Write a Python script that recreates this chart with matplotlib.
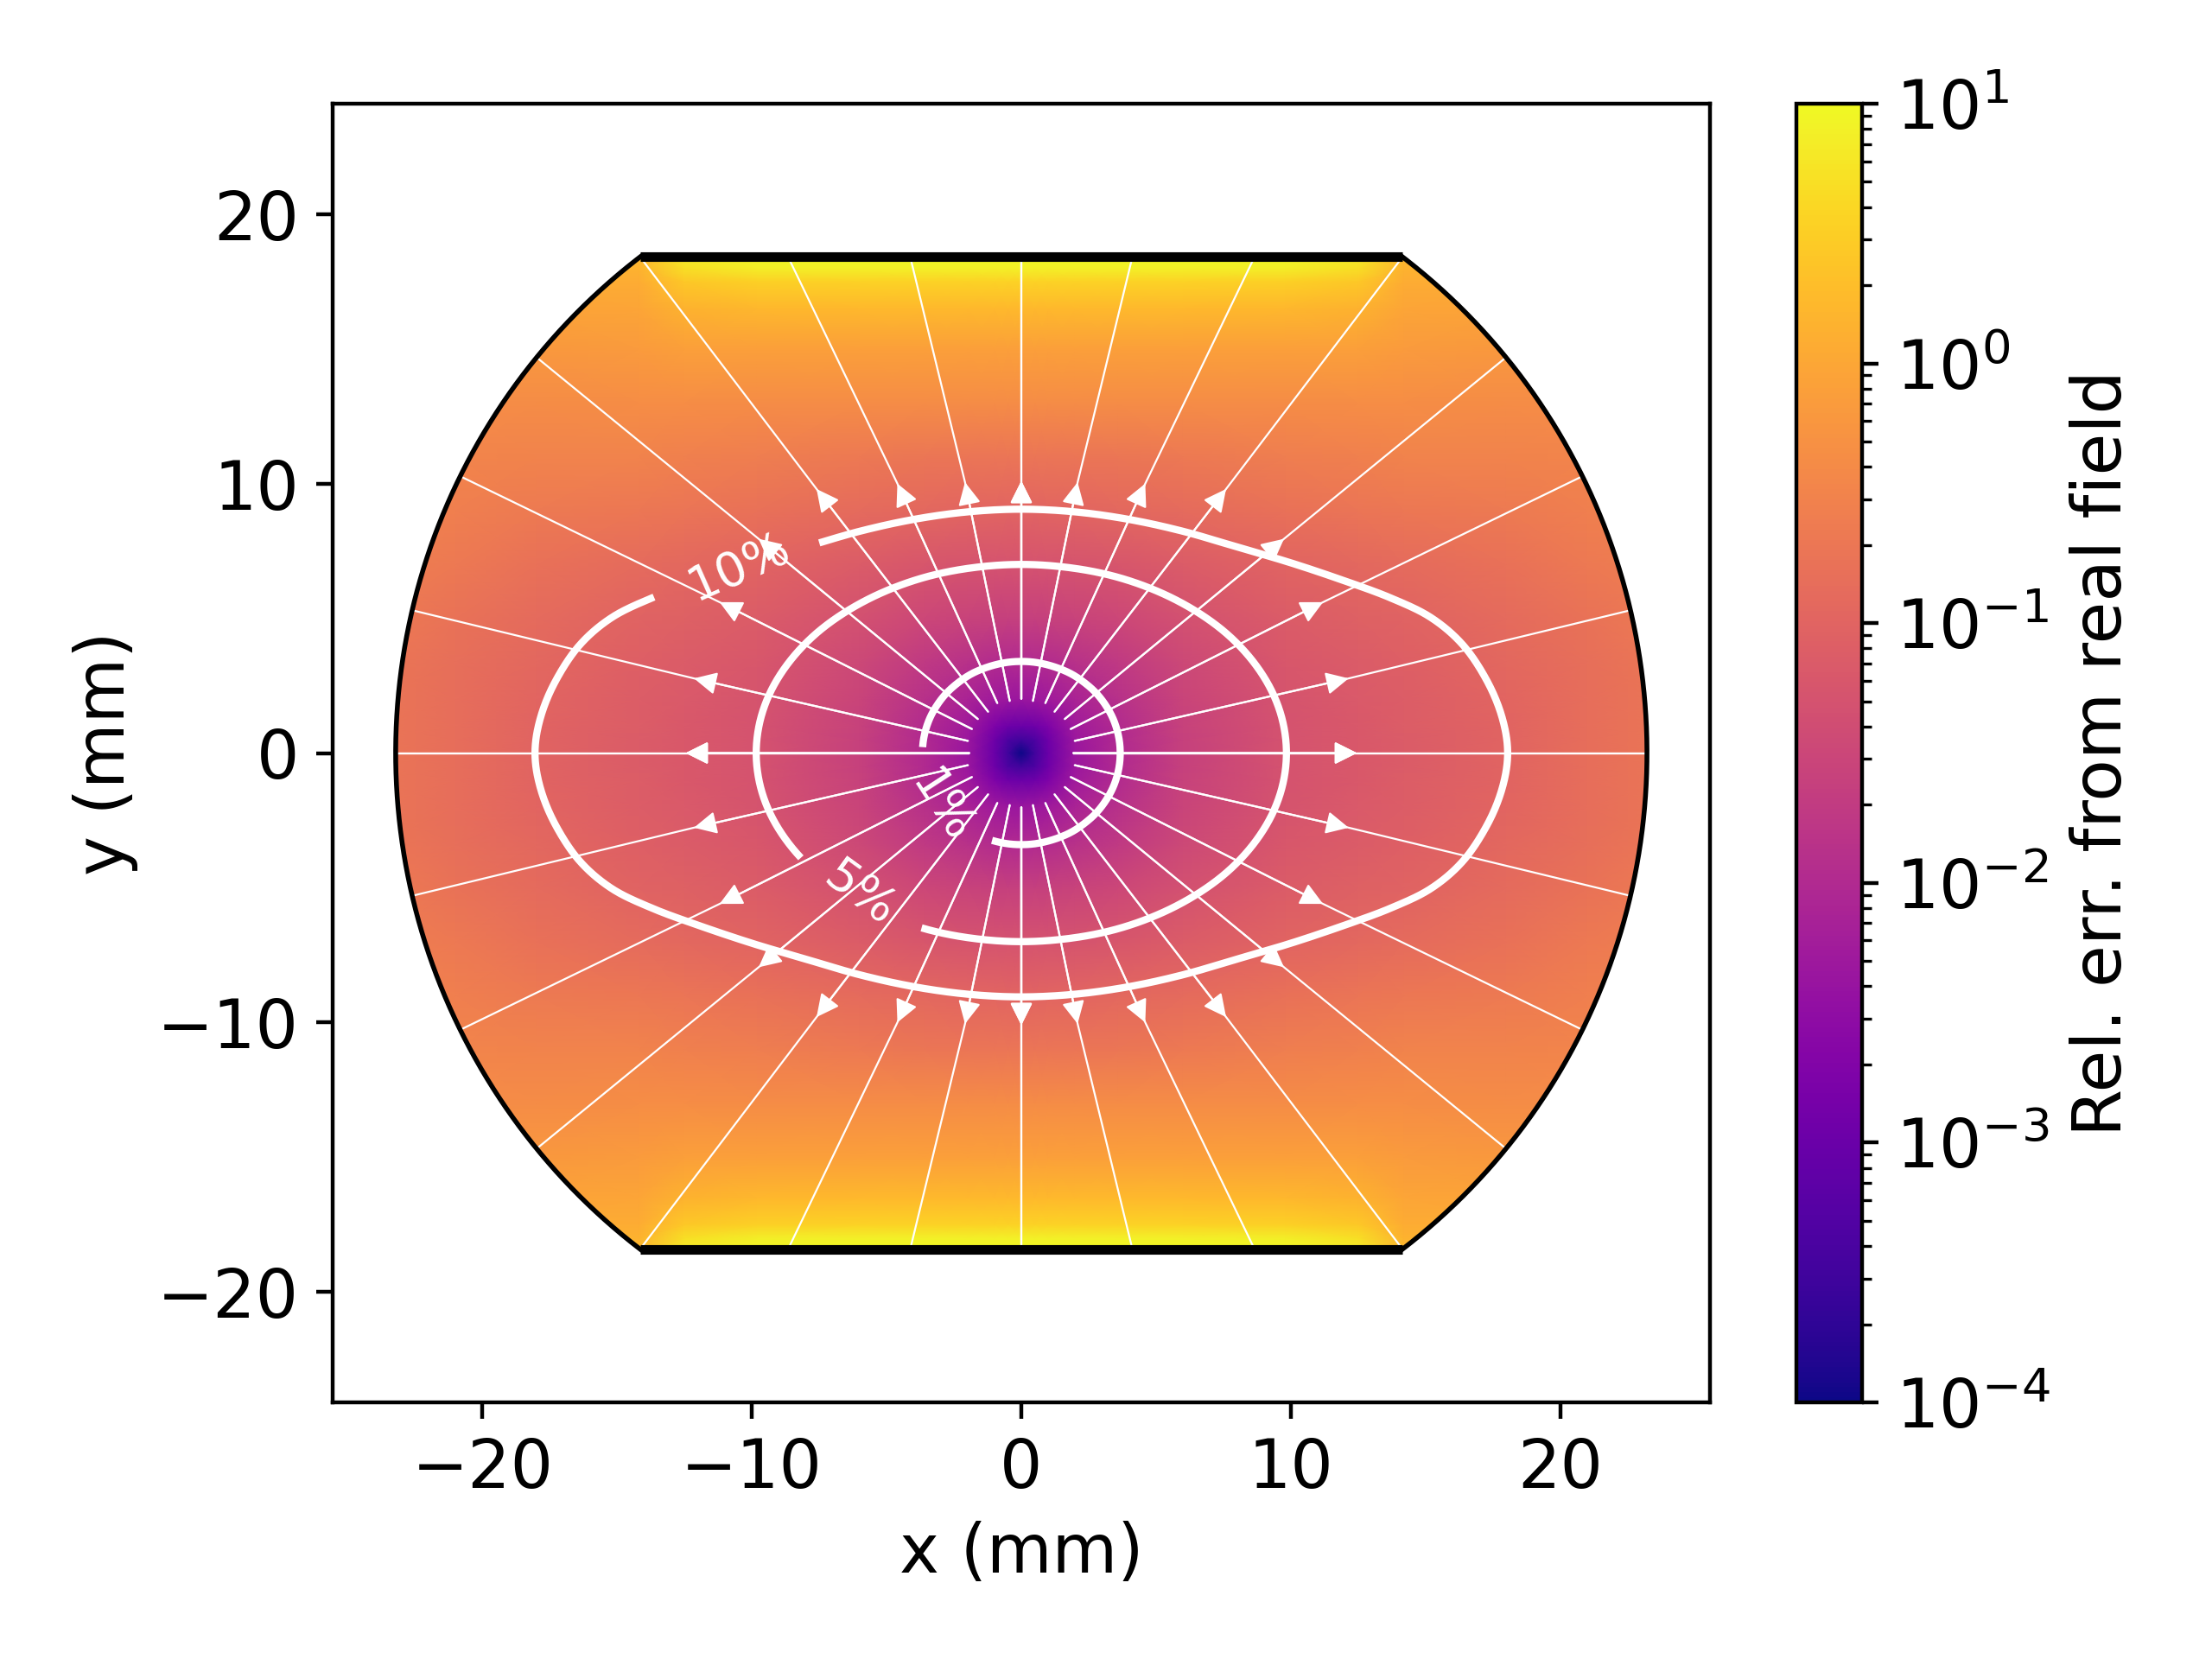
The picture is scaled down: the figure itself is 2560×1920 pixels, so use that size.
import numpy as np
import matplotlib
matplotlib.use("Agg")
import matplotlib.pyplot as plt
from matplotlib.colors import LogNorm
from matplotlib.patches import Polygon

# ---- geometry (mm)
pole_half_width = 14.14
pole_y = 18.42
bore_radius = 23.2

# ---- field: log10(relative error), first quadrant
grid_x = [0, 0.5, 1, 2, 3.6, 6, 9.8, 12.5, 14.2, 18, 21, 24]
grid_y = [0, 0.5, 1, 2, 3.4, 5, 7, 9, 11, 13, 15, 16.5, 17.5, 18, 18.5]
log_err_x00 = [-4.0, -3.5, -3.0, -2.35, -2.0, -1.62, -1.3, -1.0, -0.72, -0.38, -0.1, 0.22, 0.55, 0.9, 1.0]
log_err_x01 = [-3.5, -3.35, -2.95, -2.33, -2.0, -1.62, -1.3, -1.0, -0.72, -0.38, -0.1, 0.22, 0.55, 0.9, 1.0]
log_err_x02 = [-3.0, -2.95, -2.75, -2.28, -1.96, -1.6, -1.29, -0.99, -0.72, -0.38, -0.1, 0.22, 0.55, 0.9, 1.0]
log_err_x03 = [-2.35, -2.33, -2.28, -2.12, -1.87, -1.57, -1.27, -0.98, -0.72, -0.38, -0.1, 0.22, 0.55, 0.9, 1.0]
log_err_x04 = [-2.0, -2.0, -1.97, -1.88, -1.72, -1.5, -1.24, -0.95, -0.71, -0.38, -0.1, 0.22, 0.55, 0.9, 1.0]
log_err_x05 = [-1.6, -1.6, -1.58, -1.55, -1.47, -1.33, -1.14, -0.89, -0.67, -0.38, -0.1, 0.22, 0.55, 0.9, 1.0]
log_err_x06 = [-1.3, -1.3, -1.29, -1.27, -1.22, -1.13, -1.0, -0.78, -0.6, -0.37, -0.1, 0.2, 0.52, 0.88, 0.98]
log_err_x07 = [-1.2, -1.2, -1.19, -1.17, -1.13, -1.06, -0.94, -0.72, -0.55, -0.36, -0.11, 0.15, 0.42, 0.7, 0.85]
log_err_x08 = [-1.13, -1.13, -1.12, -1.11, -1.08, -1.02, -0.88, -0.68, -0.52, -0.35, -0.17, -0.03, 0.08, 0.15, 0.2]
log_err_x09 = [-1.0, -1.0, -1.0, -0.98, -0.95, -0.88, -0.78, -0.66, -0.52, -0.37, -0.2, -0.05, 0.08, 0.15, 0.2]
log_err_x10 = [-0.85, -0.85, -0.85, -0.84, -0.82, -0.76, -0.67, -0.58, -0.48, -0.37, -0.2, -0.05, 0.08, 0.15, 0.2]
log_err_x11 = [-0.7, -0.7, -0.7, -0.7, -0.68, -0.64, -0.58, -0.5, -0.42, -0.35, -0.2, -0.05, 0.08, 0.15, 0.2]

# ---- field lines, first quadrant: inner end, arrow tip, outer end
line_inner_x = [0.0, 0.43, 0.89, 1.23, 1.61, 1.83, 1.98, 1.93]
line_inner_y = [2.01, 1.93, 1.85, 1.53, 1.26, 0.89, 0.45, 0.0]
arrow_x = [0.0, 2.09, 4.6, 7.6, 9.75, 11.2, 12.15, 12.46]
arrow_y = [10.1, 10.05, 10.0, 9.8, 7.95, 5.6, 2.77, 0.0]
line_outer_x = [0.0, 4.12, 8.65, 14.14, 17.96, 20.8, 22.57, 23.2]
line_outer_y = [18.4, 18.4, 18.4, 18.4, 14.66, 10.26, 5.29, 0.0]

# ---- error contours, first quadrant, from +x axis to +y axis
c1_x = [3.67, 3.58, 3.3, 2.8, 2.14, 1.5, 0.73, 0.0]
c1_y = [0.0, 0.75, 1.49, 2.2, 2.76, 3.1, 3.33, 3.4]
c5_x = [9.84, 9.69, 9.25, 8.52, 7.54, 6.32, 4.92, 3.37, 1.71, 0.0]
c5_y = [0.0, 1.22, 2.39, 3.5, 4.5, 5.36, 6.06, 6.58, 6.89, 7.0]
c10_x = [18.05, 17.85, 17.3, 16.4, 15.2, 13.7, 12.0, 10.0, 8.0, 6.0, 4.0, 2.0, 0.0]
c10_y = [0.0, 1.3, 2.65, 4.0, 5.03, 5.76, 6.39, 7.06, 7.65, 8.23, 8.67, 8.95, 9.05]
# gaps that hold the labels, degrees counter-clockwise from +x
c1_gap = (177, 251)
c5_gap = (205.6, 239.8)
c10_gap = (134, 156.9)

label_text = ["1%", "5%", "10%"]
label_x = [-2.98, -6.02, -10.47]
label_y = [-2.0, -5.24, 6.91]
label_rot = [-57, -36, 24]

ax_xticks = [-20, -10, 0, 10, 20]
ax_yticks = [-20, -10, 0, 10, 20]

W, H = 2560, 1920
fig = plt.figure(figsize=(6.4, 4.8), dpi=400)
ax = fig.add_axes([385 / W, 1 - 1623 / H, (1979 - 385) / W, (1623 - 120) / H])
cax = fig.add_axes([2079 / W, 1 - 1623 / H, (2155 - 2079) / W, (1623 - 120) / H])

# field
half = np.array([log_err_x00, log_err_x01, log_err_x02, log_err_x03, log_err_x04, log_err_x05,
                 log_err_x06, log_err_x07, log_err_x08, log_err_x09, log_err_x10, log_err_x11]).T
gx = np.array(grid_x, float)
gy = np.array(grid_y, float)
X = np.r_[-gx[:0:-1], gx]
Y = np.r_[-gy[:0:-1], gy]
Z = np.hstack([half[:, :0:-1], half])
Z = np.vstack([Z[:0:-1], Z])
mesh = ax.pcolormesh(X, Y, 10.0 ** Z, cmap="plasma", norm=LogNorm(1e-4, 10), shading="gouraud",
                     rasterized=True)

# boundary
corner = np.arctan2(pole_y, pole_half_width)
t = np.linspace(-corner, corner, 200)
radius = np.hypot(pole_half_width, pole_y)
rx, ry = radius * np.cos(t), radius * np.sin(t)
outline = np.c_[np.r_[rx, -rx], np.r_[ry, -ry]]
clip = Polygon(outline, closed=True, transform=ax.transData, fc="none", ec="none")
ax.add_patch(clip)
mesh.set_clip_path(clip)

# field lines
for sx, sy in [(1, 1), (-1, 1), (-1, -1), (1, -1)]:
    for x0, y0, xa, ya, x1, y1 in zip(line_inner_x, line_inner_y, arrow_x, arrow_y,
                                      line_outer_x, line_outer_y):
        ax.plot([sx * x0, sx * xa, sx * x1], [sy * y0, sy * ya, sy * y1], color="white", lw=0.4,
                solid_capstyle="butt", zorder=3)
        ax.annotate("", xy=(sx * xa, sy * ya), xytext=(sx * x0, sy * y0),
                    arrowprops=dict(arrowstyle="-|>", mutation_scale=10, lw=0.4, color="white",
                                    shrinkA=0, shrinkB=0), zorder=3)


def smooth_loop(px, py, n=24):
    """Catmull-Rom rendering of a closed loop through the read points."""
    p = np.c_[px, py]
    out = []
    s = np.linspace(0, 1, n, endpoint=False)[:, None]
    N = len(p)
    for i in range(N):
        a, b, c, d = p[i - 1], p[i], p[(i + 1) % N], p[(i + 2) % N]
        out.append(0.5 * (2 * b + (c - a) * s + (2 * a - 5 * b + 4 * c - d) * s ** 2
                          + (3 * b - a - 3 * c + d) * s ** 3))
    return np.vstack(out)


def draw_contour(qx, qy, gap):
    qx, qy = np.array(qx), np.array(qy)
    lx = np.r_[qx, -qx[-2::-1], -qx[1:], qx[-2:0:-1]]
    ly = np.r_[qy, qy[-2::-1], -qy[1:], -qy[-2:0:-1]]
    pts = smooth_loop(lx, ly)
    ang = np.degrees(np.arctan2(pts[:, 1], pts[:, 0])) % 360
    start = np.argmax(ang >= gap[1])
    pts, ang = np.roll(pts, -start, axis=0), np.roll(ang, -start)
    keep = ~((ang > gap[0]) & (ang < gap[1]))
    ax.plot(pts[keep, 0], pts[keep, 1], color="white", lw=1.5, solid_capstyle="butt", zorder=4)


draw_contour(c1_x, c1_y, c1_gap)
draw_contour(c5_x, c5_y, c5_gap)
draw_contour(c10_x, c10_y, c10_gap)

for s, x, y, r in zip(label_text, label_x, label_y, label_rot):
    ax.text(x, y, s, color="white", fontsize=10, rotation=r, ha="center", va="center",
            rotation_mode="anchor", zorder=5)

# black outline
ax.plot(rx, ry, color="black", lw=1.0, zorder=6)
ax.plot(-rx, ry, color="black", lw=1.0, zorder=6)
ax.plot([-pole_half_width, pole_half_width], [pole_y, pole_y], color="black", lw=2,
        solid_capstyle="butt", zorder=6)
ax.plot([-pole_half_width, pole_half_width], [-pole_y, -pole_y], color="black", lw=2,
        solid_capstyle="butt", zorder=6)

ax.set_xlim(-25.56, 25.56)
ax.set_ylim(-24.1, 24.1)
ax.set_xticks(ax_xticks)
ax.set_yticks(ax_yticks)
ax.tick_params(labelsize=14)
ax.set_xlabel("x (mm)", fontsize=14)
ax.set_ylabel("y (mm)", fontsize=14)

cb = fig.colorbar(mesh, cax=cax)
cb.set_label("Rel. err. from real field", fontsize=14.3)
cb.ax.tick_params(labelsize=14)

fig.savefig("out.png", dpi=400)
